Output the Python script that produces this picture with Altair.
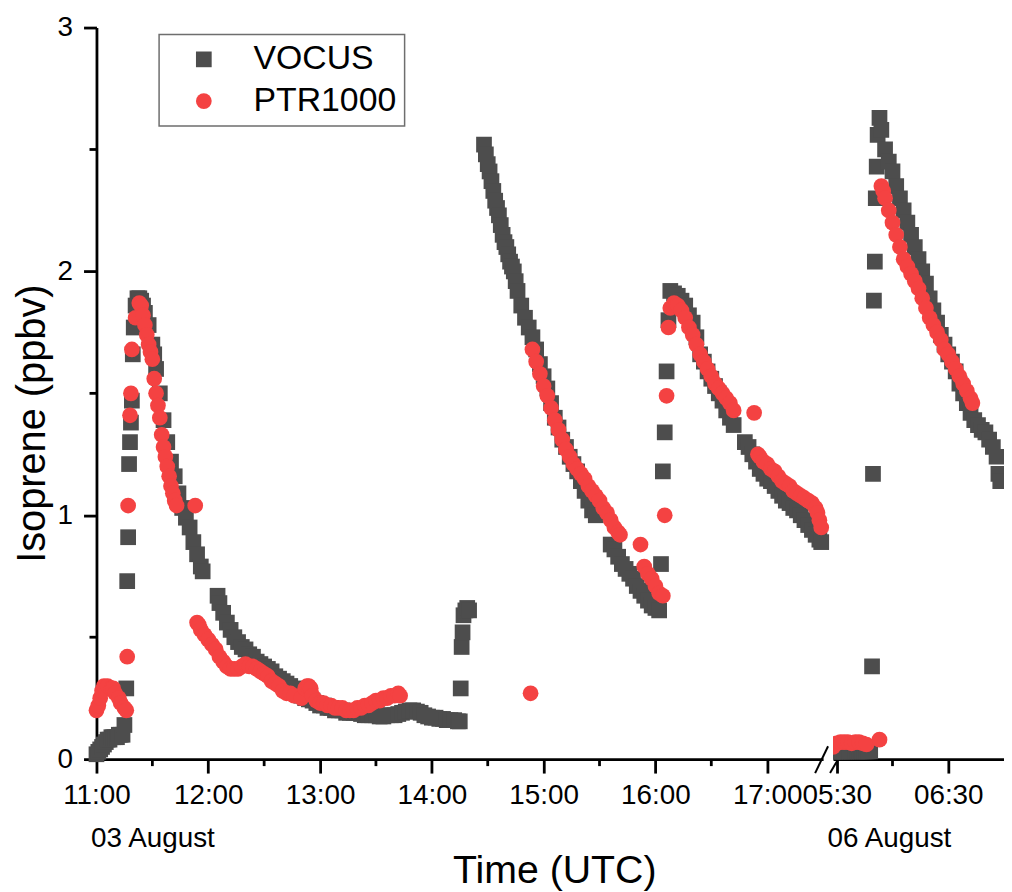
import altair as alt
import pandas as pd

FONT = "Liberation Sans"

DAY1 = "2019-08-03"
DAY2 = "2019-08-06"

SERIES = ["VOCUS", "PTR1000"]
COLORS = ["#4d4d4d", "#f44242"]
SHAPES = ["square", "circle"]

# ---------------- 03 August ----------------
VOCUS_D1_TIME = [
    "11:00", "11:01", "11:02", "11:03", "11:04", "11:05", "11:06", "11:07", "11:08", "11:09",
    "11:10", "11:11", "11:12", "11:13", "11:14", "11:15", "11:16", "11:16:30", "11:17", "11:17:30",
    "11:18", "11:18:30", "11:19", "11:19:30", "11:20", "11:21", "11:22", "11:23", "11:24", "11:25",
    "11:26", "11:28", "11:30", "11:31", "11:32", "11:34", "11:36", "11:38", "11:40", "11:42",
    "11:44", "11:46", "11:48", "11:50", "11:52", "11:54", "11:56", "11:57",
    "12:05", "12:06", "12:08", "12:10", "12:12", "12:14", "12:16", "12:18", "12:20", "12:22",
    "12:24", "12:26", "12:28", "12:30", "12:32", "12:34", "12:36", "12:38", "12:40", "12:42",
    "12:44", "12:46", "12:48", "12:50", "12:52", "12:54", "12:56", "12:58", "13:00", "13:02",
    "13:04", "13:06", "13:08", "13:10", "13:12", "13:14", "13:16", "13:18", "13:20", "13:22",
    "13:24", "13:26", "13:28", "13:30", "13:32", "13:34", "13:36", "13:38", "13:40", "13:42",
    "13:44", "13:46", "13:48", "13:50", "13:52", "13:54", "13:56", "13:58", "14:00", "14:02",
    "14:04", "14:06", "14:08", "14:10", "14:12", "14:14", "14:15",
    "14:15:30", "14:16", "14:16:30", "14:17", "14:18", "14:19", "14:20",
    "14:28", "14:29", "14:30", "14:31", "14:32", "14:33", "14:34", "14:35", "14:36", "14:37",
    "14:38", "14:39", "14:40", "14:41", "14:42", "14:43", "14:44", "14:45",
    "14:46", "14:48", "14:50", "14:52", "14:54", "14:56", "14:58", "15:00", "15:02", "15:04",
    "15:06", "15:08", "15:10", "15:12", "15:14", "15:16", "15:18", "15:20", "15:22", "15:24",
    "15:26", "15:28",
    "15:36", "15:38", "15:40", "15:42", "15:44", "15:46", "15:48", "15:50", "15:52", "15:54",
    "15:56", "15:58", "16:00", "16:02",
    "16:03", "16:04", "16:05", "16:06", "16:07", "16:08",
    "16:10", "16:12", "16:14", "16:16", "16:18", "16:20", "16:22", "16:24", "16:26", "16:28",
    "16:30", "16:32", "16:34", "16:36", "16:38", "16:40", "16:42",
    "16:48", "16:50", "16:52", "16:54", "16:56", "16:58", "17:00", "17:02", "17:04", "17:06",
    "17:08", "17:10", "17:12", "17:14", "17:16", "17:18", "17:20", "17:22", "17:24", "17:26",
    "17:28", "17:29",
]
VOCUS_D1_PPBV = [
    0.02, 0.03, 0.04, 0.05, 0.06, 0.07, 0.08, 0.08, 0.09, 0.09,
    0.09, 0.09, 0.10, 0.10, 0.10, 0.14, 0.29, 0.73, 0.91, 1.21,
    1.30, 1.38, 1.47, 1.66, 1.77, 1.86, 1.89, 1.89, 1.88, 1.86,
    1.83, 1.78, 1.70, 1.66, 1.60, 1.50, 1.39, 1.30, 1.22, 1.16,
    1.09, 1.03, 0.99, 0.95, 0.89, 0.84, 0.79, 0.77,
    0.67, 0.64, 0.60, 0.56, 0.53, 0.50, 0.48, 0.46, 0.45, 0.43,
    0.42, 0.40, 0.39, 0.38, 0.37, 0.36, 0.34, 0.33, 0.32, 0.31,
    0.30, 0.29, 0.27, 0.26, 0.25, 0.245, 0.24, 0.23, 0.22, 0.22,
    0.21, 0.21, 0.20, 0.20, 0.20, 0.19, 0.19, 0.19, 0.19, 0.185,
    0.18, 0.18, 0.18, 0.18, 0.175, 0.175, 0.18, 0.18, 0.18, 0.185,
    0.19, 0.195, 0.20, 0.20, 0.195, 0.19, 0.18, 0.175, 0.17, 0.17,
    0.165, 0.165, 0.16, 0.16, 0.16, 0.155, 0.155,
    0.29, 0.46, 0.52, 0.59, 0.61, 0.62, 0.61,
    2.52, 2.48, 2.44, 2.41, 2.37, 2.33, 2.29, 2.26, 2.23, 2.19,
    2.15, 2.12, 2.10, 2.07, 2.04, 2.02, 2.00, 1.96,
    1.92, 1.86, 1.81, 1.77, 1.73, 1.68, 1.62, 1.57, 1.52, 1.46,
    1.40, 1.36, 1.31, 1.28, 1.24, 1.21, 1.18, 1.14, 1.10, 1.06,
    1.02, 1.00,
    0.88, 0.86, 0.83, 0.80, 0.78, 0.76, 0.74, 0.71, 0.69, 0.67,
    0.65, 0.63, 0.62, 0.61,
    0.80, 1.18, 1.34, 1.59, 1.80, 1.92,
    1.91, 1.90, 1.88, 1.86, 1.82, 1.79, 1.73, 1.66, 1.63, 1.59,
    1.56, 1.53, 1.50, 1.47, 1.43, 1.40, 1.37,
    1.30, 1.28, 1.25, 1.22, 1.19, 1.17, 1.15, 1.14, 1.12, 1.10,
    1.08, 1.06, 1.05, 1.03, 1.02, 1.00, 0.98, 0.96, 0.94, 0.92,
    0.90, 0.89,
]

PTR_D1_TIME = [
    "11:00", "11:01", "11:02", "11:03", "11:04", "11:06", "11:08", "11:09", "11:10", "11:12",
    "11:13", "11:15", "11:16",
    "11:16:30", "11:17", "11:18", "11:18:30", "11:19", "11:21", "11:23",
    "11:24", "11:25", "11:26", "11:27", "11:28", "11:29", "11:30", "11:31", "11:32", "11:33",
    "11:34", "11:35", "11:36", "11:37", "11:38", "11:39", "11:40", "11:41", "11:42", "11:43",
    "11:53",
    "11:54", "11:55", "11:56", "11:58", "12:00", "12:02", "12:04", "12:06", "12:08", "12:10",
    "12:12", "12:14", "12:16", "12:18", "12:20", "12:22", "12:24", "12:26", "12:28", "12:30",
    "12:32", "12:34", "12:36", "12:38", "12:40", "12:42", "12:44", "12:46", "12:50", "12:52",
    "12:53", "12:54", "12:55", "12:56", "12:58", "13:00", "13:02", "13:04", "13:06", "13:08",
    "13:10", "13:12", "13:14", "13:16", "13:18", "13:20", "13:22", "13:24", "13:26", "13:28",
    "13:30", "13:32", "13:34", "13:36", "13:38", "13:40", "13:42", "13:43",
    "14:53",
    "14:54", "14:56", "14:58", "15:00", "15:02", "15:04", "15:06", "15:08", "15:10", "15:12",
    "15:14", "15:16", "15:18", "15:20", "15:22", "15:24", "15:26", "15:28", "15:30", "15:32",
    "15:34", "15:36", "15:38", "15:40", "15:41",
    "15:52",
    "15:54", "15:56", "15:58", "16:00", "16:02", "16:04",
    "16:05", "16:06", "16:07", "16:08",
    "16:10", "16:11", "16:12", "16:14", "16:16", "16:18", "16:20", "16:22", "16:24", "16:26",
    "16:28", "16:30", "16:32", "16:34", "16:36", "16:38", "16:40", "16:42",
    "16:53",
    "16:55", "16:56", "16:58", "17:00", "17:02", "17:04", "17:06", "17:08", "17:10", "17:12",
    "17:14", "17:16", "17:18", "17:20", "17:22", "17:24", "17:26", "17:27", "17:28", "17:29",
]
PTR_D1_PPBV = [
    0.20, 0.22, 0.25, 0.28, 0.30, 0.30, 0.29, 0.29, 0.27, 0.25,
    0.23, 0.21, 0.20,
    0.42, 1.04, 1.41, 1.50, 1.68, 1.81, 1.87,
    1.86, 1.82, 1.78, 1.74, 1.70, 1.67, 1.64, 1.56, 1.50, 1.45,
    1.40, 1.33, 1.28, 1.24, 1.20, 1.16, 1.12, 1.09, 1.06, 1.04,
    1.04,
    0.56, 0.55, 0.53, 0.51, 0.49, 0.47, 0.45, 0.42, 0.40, 0.38,
    0.37, 0.37, 0.37, 0.38, 0.39, 0.38, 0.38, 0.37, 0.36, 0.35,
    0.34, 0.32, 0.31, 0.30, 0.28, 0.27, 0.27, 0.26, 0.25, 0.29,
    0.30, 0.30, 0.29, 0.26, 0.24, 0.23, 0.23, 0.22, 0.22, 0.21,
    0.21, 0.21, 0.20, 0.20, 0.20, 0.21, 0.21, 0.22, 0.22, 0.23,
    0.24, 0.24, 0.25, 0.25, 0.26, 0.26, 0.27, 0.26,
    0.27,
    1.68, 1.63, 1.58, 1.53, 1.49, 1.44, 1.39, 1.35, 1.31, 1.27,
    1.24, 1.21, 1.19, 1.17, 1.15, 1.12, 1.10, 1.08, 1.06, 1.03,
    1.01, 0.98, 0.95, 0.93, 0.92,
    0.88,
    0.79, 0.76, 0.74, 0.71, 0.68, 0.67,
    1.00, 1.49, 1.77, 1.85,
    1.87, 1.86, 1.86, 1.84, 1.81, 1.77, 1.74, 1.70, 1.66, 1.63,
    1.60, 1.57, 1.54, 1.52, 1.50, 1.48, 1.46, 1.43,
    1.42,
    1.25, 1.24, 1.22, 1.21, 1.19, 1.18, 1.16, 1.14, 1.13, 1.12,
    1.10, 1.09, 1.08, 1.07, 1.06, 1.05, 1.03, 1.01, 0.98, 0.95,
]

# ---------------- 06 August ----------------
VOCUS_D2_TIME = [
    "05:27", "05:28", "05:29", "05:30", "05:31", "05:32", "05:33", "05:34", "05:35", "05:36",
    "05:37", "05:38", "05:39", "05:40", "05:41", "05:42", "05:43", "05:44", "05:45", "05:46",
    "05:47", "05:48",
    "05:49", "05:49:30", "05:50", "05:50:30", "05:51", "05:51:30", "05:52",
    "05:53", "05:54", "05:56", "05:58", "06:00", "06:02", "06:04", "06:06", "06:08", "06:10",
    "06:12", "06:14", "06:16", "06:18", "06:20", "06:22", "06:24", "06:26", "06:28", "06:30",
    "06:32", "06:34", "06:36", "06:38", "06:40", "06:42", "06:44", "06:46", "06:48", "06:50",
    "06:52", "06:54", "06:56", "06:57", "06:58",
]
VOCUS_D2_PPBV = [
    0.01, 0.01, 0.01, 0.02, 0.02, 0.02, 0.02, 0.02, 0.02, 0.02,
    0.03, 0.03, 0.03, 0.03, 0.03, 0.03, 0.03, 0.03, 0.03, 0.03,
    0.03, 0.03,
    0.38, 1.17, 1.88, 2.04, 2.30, 2.43, 2.56,
    2.63, 2.58, 2.50, 2.45, 2.41, 2.35, 2.30, 2.25, 2.20, 2.15,
    2.10, 2.05, 2.00, 1.95, 1.89, 1.84, 1.79, 1.74, 1.70, 1.66,
    1.63, 1.59, 1.54, 1.50, 1.46, 1.42, 1.39, 1.37, 1.35, 1.34,
    1.31, 1.28, 1.24, 1.17, 1.14,
]

PTR_D2_TIME = [
    "05:28", "05:29", "05:30", "05:32", "05:34", "05:36", "05:38", "05:40", "05:42", "05:44",
    "05:46", "05:53",
    "05:54", "05:55", "05:56", "05:58", "06:00", "06:02", "06:04", "06:06", "06:08", "06:10",
    "06:12", "06:14", "06:16", "06:18", "06:20", "06:22", "06:24", "06:26", "06:28", "06:30",
    "06:32", "06:34", "06:36", "06:38", "06:40", "06:42", "06:43",
]
PTR_D2_PPBV = [
    0.05, 0.06, 0.065, 0.07, 0.07, 0.07, 0.065, 0.07, 0.07, 0.065,
    0.06, 0.08,
    2.35, 2.33, 2.30, 2.25, 2.20, 2.15, 2.10, 2.05, 2.02, 1.99,
    1.96, 1.93, 1.89, 1.85, 1.81, 1.78, 1.75, 1.72, 1.68, 1.66,
    1.63, 1.60, 1.57, 1.54, 1.51, 1.48, 1.46,
]

# axes
X_DOMAIN_D1 = ["11:00", "17:30"]
X_DOMAIN_D2 = ["05:28", "07:00"]
X_TICKS_D1 = ["11:00", "12:00", "13:00", "14:00", "15:00", "16:00", "17:00"]
X_MINOR_D1 = ["11:30", "12:30", "13:30", "14:30", "15:30", "16:30"]
X_TICKS_D2 = ["05:30", "06:30"]
X_MINOR_D2 = ["06:00"]
Y_DOMAIN = [0, 3]
Y_TICKS = [0, 1, 2, 3]
Y_MINOR = [0.5, 1.5, 2.5]
DATE_LABELS = ["03 August", "06 August"]
Y_TITLE = "Isoprene (ppbv)"
X_TITLE = "Time (UTC)"

W1, W2, H = 731, 172, 736
AXIS_W = 2.8


def iso(day, t):
    if t.count(":") == 1:
        t = t + ":00"
    return f"{day}T{t}"


def dt(day, t):
    y, mo, d = (int(p) for p in day.split("-"))
    h, mi = (int(p) for p in t.split(":")[:2])
    return alt.DateTime(year=y, month=mo, date=d, hours=h, minutes=mi)


def make_df(day, vt, vv, pt, pv):
    rows = [{"time": iso(day, t), "ppbv": v, "series": "VOCUS"} for t, v in zip(vt, vv)]
    rows += [{"time": iso(day, t), "ppbv": v, "series": "PTR1000"} for t, v in zip(pt, pv)]
    return pd.DataFrame(rows)


legend = alt.Legend(
    title=None, orient="none", legendX=63, legendY=7,
    labelFont=FONT, labelFontSize=34, labelColor="black",
    symbolSize=250, symbolStrokeWidth=0, symbolOpacity=1,
    padding=8, rowPadding=8, symbolOffset=20, labelOffset=33,
    strokeColor="#6e6e6e", fillColor="white", cornerRadius=0,
)


def panel(df, day, domain, ticks, minor, width, date_label, show_y, clip, brk):
    xscale = alt.Scale(domain=[dt(day, domain[0]), dt(day, domain[1])])
    yscale = alt.Scale(domain=Y_DOMAIN, nice=False)
    xaxis = alt.Axis(
        values=[dt(day, t) for t in ticks], format="%H:%M", title=date_label,
        titleX=-6, titleY=88, titleAlign="left", titleAnchor="start",
        titleBaseline="alphabetic", titleFontSize=28, titleFontWeight="normal",
        labelFontSize=28, labelPadding=9, labelFlush=False, labelOverlap=False,
        tickSize=14, grid=False,
    )
    if show_y:
        yaxis = alt.Axis(
            values=Y_TICKS, title=Y_TITLE, titleFontSize=40, titleFontWeight="normal",
            titleX=-52, titleY=398, titleAngle=-90, titleAlign="center",
            titleBaseline="alphabetic", labelFontSize=28, labelPadding=11,
            tickSize=13, grid=False,
        )
    else:
        yaxis = None
    pts = alt.Chart(df).mark_point(
        filled=True, opacity=1, size=250, strokeWidth=0, clip=clip
    ).encode(
        x=alt.X("time:T", scale=xscale, axis=xaxis),
        y=alt.Y("ppbv:Q", scale=yscale, axis=yaxis),
        color=alt.Color("series:N", scale=alt.Scale(domain=SERIES, range=COLORS), legend=legend),
        shape=alt.Shape("series:N", scale=alt.Scale(domain=SERIES, range=SHAPES), legend=legend),
    )
    layers = [pts]
    mx = pd.DataFrame({"time": [iso(day, t) for t in minor]})
    layers.append(
        alt.Chart(mx).mark_rule(color="black", strokeWidth=AXIS_W).encode(
            x=alt.X("time:T", scale=xscale, axis=xaxis),
            y=alt.value(H), y2=alt.value(H + 7),
        )
    )
    if show_y:
        my = pd.DataFrame({"ppbv": Y_MINOR})
        layers.append(
            alt.Chart(my).mark_rule(color="black", strokeWidth=AXIS_W).encode(
                y=alt.Y("ppbv:Q", scale=yscale, axis=yaxis),
                x=alt.value(-7), x2=alt.value(0),
            )
        )
    one = pd.DataFrame({"k": [0]})
    layers.append(
        alt.Chart(one).mark_rule(color="black", strokeWidth=2).encode(
            x=alt.value(brk[0]), x2=alt.value(brk[1]),
            y=alt.value(brk[2]), y2=alt.value(brk[3]),
        )
    )
    return alt.layer(*layers).properties(width=width, height=H)


df1 = make_df(DAY1, VOCUS_D1_TIME, VOCUS_D1_PPBV, PTR_D1_TIME, PTR_D1_PPBV)
df2 = make_df(DAY2, VOCUS_D2_TIME, VOCUS_D2_PPBV, PTR_D2_TIME, PTR_D2_PPBV)

left = panel(df1, DAY1, X_DOMAIN_D1, X_TICKS_D1, X_MINOR_D1, W1, DATE_LABELS[0],
             True, False, (W1 - 8, W1 + 5, H + 14, H - 13))
right = panel(df2, DAY2, X_DOMAIN_D2, X_TICKS_D2, X_MINOR_D2, W2, DATE_LABELS[1],
              False, True, (-3, 4, H + 14, H + 2))

chart = alt.hconcat(left, right, spacing=10, bounds="flush").properties(
    title=alt.TitleParams(
        X_TITLE, orient="bottom", anchor="middle", frame="group", dx=461,
        fontSize=39.5, fontWeight="normal", font=FONT, color="black", offset=0,
    ),
    padding={"left": 5, "top": 3, "right": 0, "bottom": 0},
).configure_view(
    stroke=None
).configure_axis(
    labelFont=FONT, titleFont=FONT, labelColor="black", titleColor="black",
    domainColor="black", tickColor="black", domainWidth=AXIS_W, tickWidth=AXIS_W,
).configure_legend(
    strokeWidth=1.5
)

chart.save("out.html", embed_options={"renderer": "svg", "actions": False})
